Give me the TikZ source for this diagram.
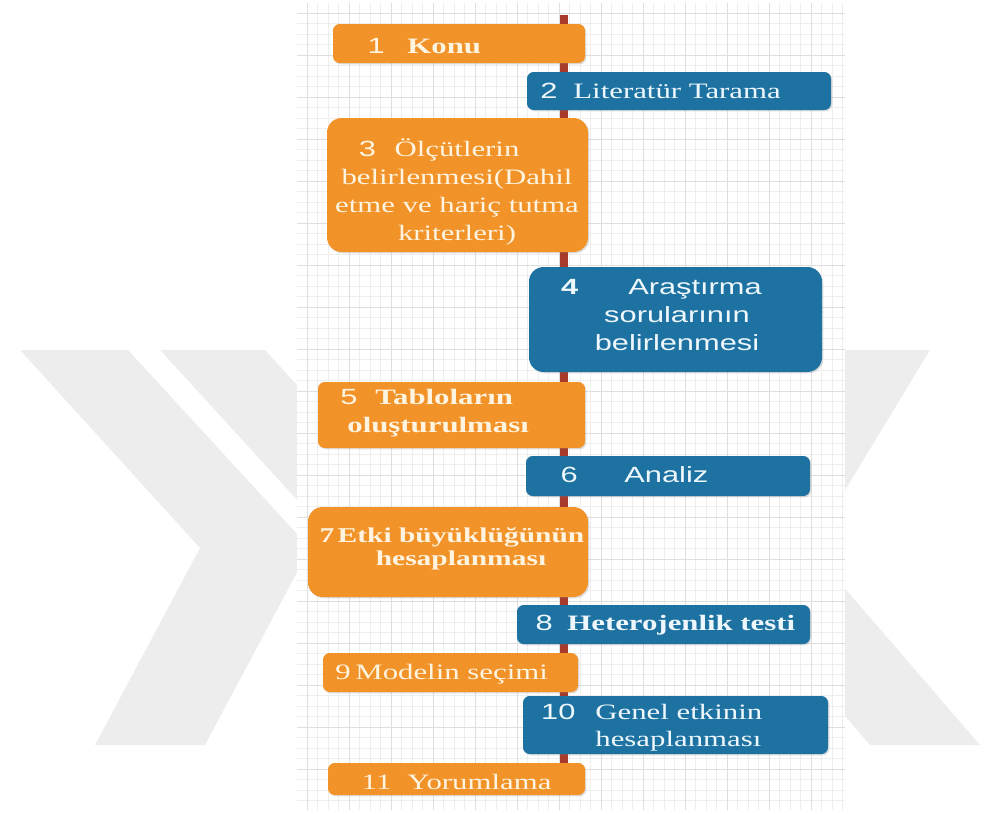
\documentclass[tikz,border=0pt]{standalone}
\usepackage{fontspec}
\usepackage{tikz}
\usetikzlibrary{shadows,backgrounds}
\newfontfamily\serifw[FakeStretch=1.4]{Liberation Serif}
\newfontfamily\sansw[FakeStretch=1.4]{Liberation Sans}
\definecolor{turuncu}{HTML}{F2932A}
\definecolor{mavi}{HTML}{1D72A2}
\definecolor{omurga}{HTML}{A83A2C}
\definecolor{krem}{HTML}{FFF4E0}
\definecolor{acik}{HTML}{EEF7FB}
\definecolor{izgara}{HTML}{EEEEEE}
\definecolor{izgarakoyu}{HTML}{DEDEDE}
\definecolor{filigran}{HTML}{EDEDED}

\begin{document}
\begin{tikzpicture}[x=0.75pt,y=-0.75pt,semithick,
  kutu/.style 2 args={rectangle,rounded corners=5pt,inner sep=0pt,
    minimum width=#1*0.75pt,minimum height=#2*0.75pt,
    drop shadow={shadow xshift=1pt,shadow yshift=-1pt,opacity=.25}},
  tur/.style 2 args={kutu={#1}{#2},fill=turuncu},
  mav/.style 2 args={kutu={#1}{#2},fill=mavi},
  buyuk/.style={rounded corners=11pt},
  yazi/.style={inner sep=0pt,text=krem,font=\fontsize{16.5}{21}\serifw},
  kalin/.style={yazi,font=\fontsize{16.5}{21}\serifw\bfseries},
  duz/.style={yazi,font=\fontsize{16.5}{21}\sansw},
  mavyazi/.style={text=acik}]
\useasboundingbox (0,0) rectangle (986,814);

\node[tur={252}{39}] (b1) at (459,43.5) {};
\node[mav={304}{38}] (b2) at (679,91) {};
\node[tur={261}{134},buyuk] (b3) at (457.5,185) {};
\node[mav={293}{105},buyuk] (b4) at (675.5,319.5) {};
\node[tur={267}{66}] (b5) at (451.5,415) {};
\node[mav={284}{40}] (b6) at (668,476) {};
\node[tur={280}{90},buyuk] (b7) at (448,552) {};
\node[mav={293}{39}] (b8) at (663.5,624.5) {};
\node[tur={255}{39}] (b9) at (450.5,672.5) {};
\node[mav={305}{58}] (b10) at (675.5,725) {};
\node[tur={257}{32}] (b11) at (456.5,779) {};

% multi-line texts sit on their last baseline
\node[kalin,anchor=base west] (t1) at (407,53) {\llap{{\sansw\mdseries 1}\hspace{17pt}}Konu};
\node[yazi,mavyazi,anchor=base west] (t2) at (573,98) {\llap{{\sansw 2}\hspace{12pt}}Literatür Tarama};
\node[yazi,align=center,anchor=base] (t3) at (457,240)
  {\llap{{\sansw 3}\hspace{14pt}}Ölçütlerin\\belirlenmesi(Dahil\\etme ve hariç tutma\\kriterleri)};
\node[duz,mavyazi,align=center,anchor=base] (t4) at (677,350)
  {\kern27pt\llap{\bfseries 4\hspace{37.5pt}}Araştırma\\sorularının\\belirlenmesi};
\node[kalin,align=left,anchor=base west] (t5) at (347,432)
  {\kern21pt\llap{{\sansw\mdseries 5}\hspace{13.5pt}}Tabloların\\oluşturulması};
\node[duz,mavyazi,anchor=base west] (t6) at (624,482) {\llap{6\hspace{35pt}}Analiz};
\node[kalin,align=center,anchor=base,font=\fontsize{15.8}{17}\serifw\bfseries] (t7) at (461,565)
  {\llap{7\hspace{2.5pt}}Etki büyüklüğünün\\hesaplanması};
\node[kalin,mavyazi,anchor=base west] (t8) at (567,630) {\llap{{\sansw\mdseries 8}\hspace{11pt}}Heterojenlik testi};
\node[yazi,anchor=base west] (t9) at (355,679) {\llap{9\hspace{3.5pt}}Modelin seçimi};
\node[yazi,mavyazi,align=left,anchor=base west,font=\fontsize{16.5}{20}\serifw] (t10) at (595,746)
  {\llap{{\sansw 10}\hspace{15pt}}Genel etkinin\\hesaplanması};
\node[yazi,anchor=base west] (t11) at (407,789) {\llap{11\hspace{12pt}}Yorumlama};

\begin{pgfonlayer}{background}
\fill[filigran] (20,350) -- (128,350) -- (310,548) -- (205,745) -- (95,745) -- (200,548) -- cycle;
\fill[filigran] (160,350) -- (265,350) -- (480,585) -- (375,585) -- cycle;
\fill[filigran] (820,350) -- (930,350) -- (810,548) -- (980,745) -- (870,745) -- (700,548) -- cycle;
\fill[white] (297,3) rectangle (845,810);
\begin{scope}[shift={(13,13)}]
\draw[izgara,line width=.4pt,step=7.875pt] (284,-10) grid (832,797);
\draw[izgarakoyu,line width=.5pt,step=31.5pt] (284,-10) grid (832,797);
\end{scope}
\coordinate (ust) at (564,15);
\draw[omurga,line width=6pt] (ust) -- (ust |- b11.center);
\end{pgfonlayer}
\end{tikzpicture}
\end{document}
